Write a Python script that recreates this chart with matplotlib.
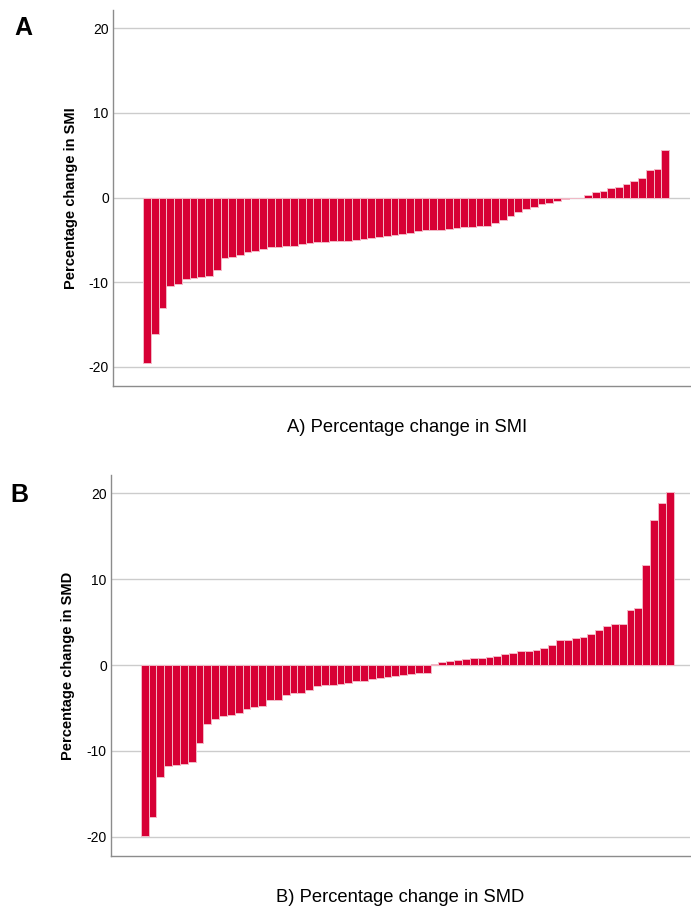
import numpy as np
import matplotlib
matplotlib.use("Agg")
import matplotlib.pyplot as plt

plt.rcParams["font.family"] = ["Liberation Sans", "DejaVu Sans"]

# percentage change per patient, sorted ascending
smi_change = [
    -19.5, -16.1, -13.05, -10.46, -10.23, -9.6, -9.48, -9.4, -9.24, -8.6,
    -7.12, -6.96, -6.8, -6.45, -6.3, -6.1, -5.86, -5.82, -5.74, -5.66,
    -5.54, -5.31, -5.27, -5.19, -5.15, -5.15, -5.15, -5.0, -4.84, -4.76,
    -4.64, -4.56, -4.41, -4.25, -4.13, -3.94, -3.86, -3.77, -3.77, -3.74,
    -3.54, -3.44, -3.42, -3.3, -3.3, -2.95, -2.64, -2.12, -1.69, -1.38,
    -1.06, -0.75, -0.63, -0.44, -0.16, -0.08, -0.04, 0.35, 0.7, 0.82,
    1.1, 1.3, 1.65, 2.0, 2.36, 3.22, 3.38, 5.58,
]
smd_change = [
    -19.9, -17.7, -13.0, -11.8, -11.66, -11.58, -11.3, -9.08, -6.9, -6.32,
    -5.93, -5.77, -5.61, -5.11, -4.91, -4.76, -4.09, -4.05, -3.43, -3.31,
    -3.31, -2.88, -2.49, -2.37, -2.33, -2.25, -2.1, -1.91, -1.8, -1.6,
    -1.52, -1.44, -1.29, -1.13, -1.01, -0.98, -0.98, 0.15, 0.33, 0.52,
    0.64, 0.66, 0.78, 0.82, 0.94, 1.05, 1.32, 1.44, 1.64, 1.68,
    1.79, 2.02, 2.29, 2.92, 2.92, 3.11, 3.27, 3.66, 4.13, 4.56,
    4.8, 4.8, 6.39, 6.7, 11.7, 16.96, 18.83, 20.19,
]
yticks = [-20, -10, 0, 10, 20]

BAR = "#d70035"
W, H = 691, 906

fig = plt.figure(figsize=(W / 100, H / 100), dpi=100)


def panel(rect, values, xlim, ylabel, caption, cap_xy, letter, letter_xy, ylab_x):
    ax = fig.add_axes(rect)
    x = np.arange(len(values))
    ax.bar(x, values, width=1.0, color=BAR, edgecolor="#f3b8c6", linewidth=0.7, zorder=3)
    ax.set_xlim(*xlim)
    ax.set_ylim(-22.25, 22.15)
    ax.set_yticks(yticks)
    ax.set_yticklabels([str(t) for t in yticks], fontsize=10)
    ax.set_xticks([])
    ax.tick_params(axis="y", length=0, pad=3)
    ax.grid(axis="y", color="#cccccc", linewidth=1.0, zorder=0)
    for s in ("top", "right"):
        ax.spines[s].set_visible(False)
    for s in ("left", "bottom"):
        ax.spines[s].set_color("#8c8c8c")
        ax.spines[s].set_linewidth(1.0)
    ax.set_ylabel(ylabel, fontsize=10.5, fontweight="bold")
    ax.yaxis.set_label_coords((ylab_x - rect[0] * W) / (rect[2] * W), 0.5)
    fig.text(cap_xy[0] / W, 1 - cap_xy[1] / H, caption, fontsize=13.2,
             ha="center", va="center")
    fig.text(letter_xy[0] / W, 1 - letter_xy[1] / H, letter, fontsize=18,
             fontweight="bold", ha="center", va="center")
    return ax


panel([113 / W, 1 - 386 / H, 577 / W, 376 / H], smi_change, (-4.4, 70.2),
      "Percentage change in SMI", "A) Percentage change in SMI", (407, 428),
      "A", (23, 28), 78)
panel([111 / W, 1 - 856 / H, 579 / W, 381 / H], smd_change, (-4.3, 69.6),
      "Percentage change in SMD", "B) Percentage change in SMD", (400, 898),
      "B", (19, 495), 75)

fig.savefig("out.png", dpi=100)
